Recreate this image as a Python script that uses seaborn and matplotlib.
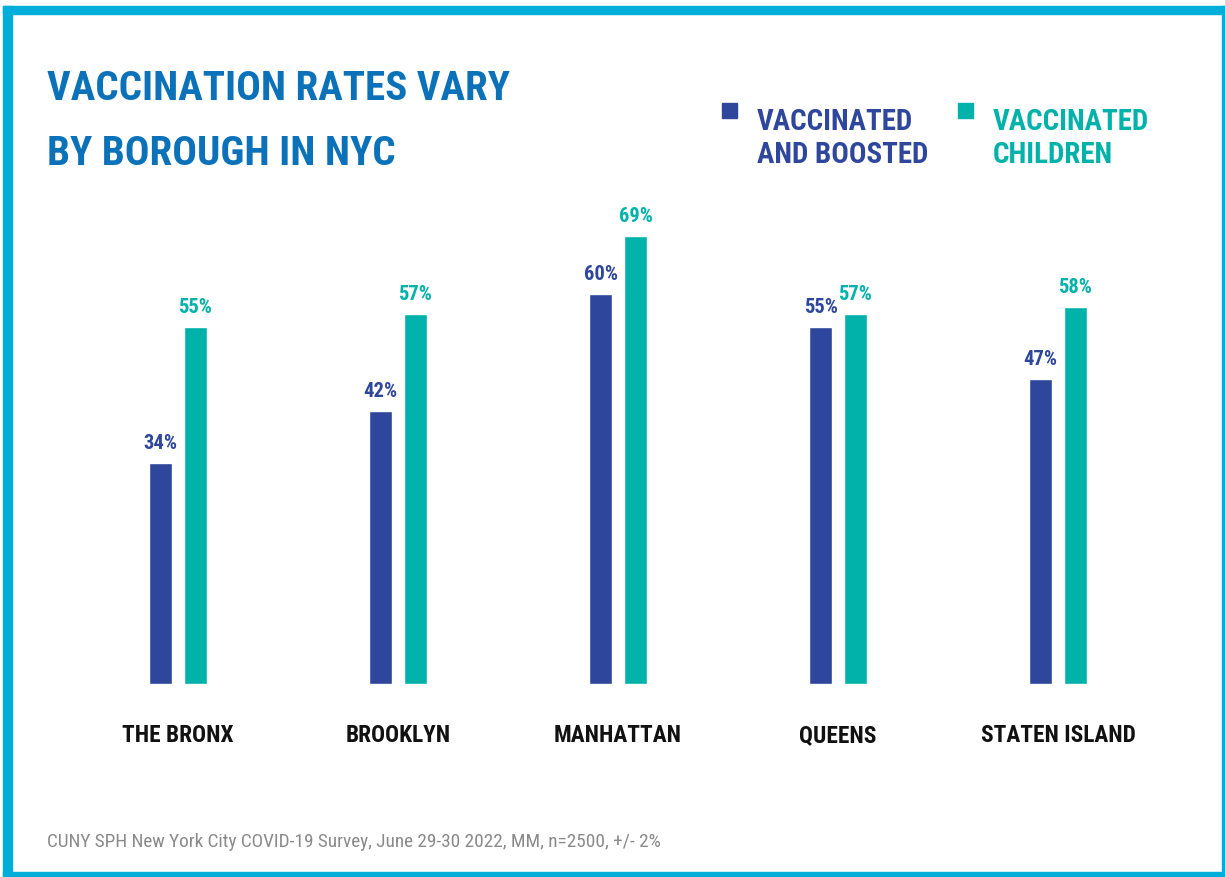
import pandas as pd
import matplotlib.pyplot as plt
import seaborn as sns
from matplotlib.patches import Rectangle
from matplotlib import font_manager
from matplotlib.font_manager import FontProperties
from matplotlib.textpath import TextPath

boroughs = ['THE BRONX', 'BROOKLYN', 'MANHATTAN', 'QUEENS', 'STATEN ISLAND']
boosted = [34, 42, 60, 55, 47]
children = [55, 57, 69, 57, 58]
series = ['VACCINATED AND BOOSTED', 'VACCINATED CHILDREN']
footer = 'CUNY SPH New York City COVID-19 Survey, June 29-30 2022, MM, n=2500, +/- 2%'

BLUE = '#2E479C'
TEAL = '#00B2A9'
TITLE_BLUE = '#0B72B9'
BORDER = '#00AEDA'

W, H = 1225, 877


def fx(x):
    return x / W


def fy(y):
    return 1 - y / H


def pick_narrow_font():
    names = {f.name for f in font_manager.fontManager.ttflist}
    for cand in ['Liberation Sans Narrow', 'Roboto Condensed', 'Open Sans Condensed',
                 'Noto Sans Condensed', 'DejaVu Sans Condensed']:
        if cand in names:
            return cand
    return 'DejaVu Sans'


FONT = pick_narrow_font()


def fit_size(text, target_px, max_pt, weight='bold'):
    # подбор кегля под ширину текста в референсе
    prop = FontProperties(family=FONT, weight=weight, stretch='condensed')
    w = TextPath((0, 0), text, size=10, prop=prop).get_extents().width * 100 / 72
    return min(max_pt, 10 * target_px / w)


def plot_vaccination():
    sns.set_style('white')
    plt.rcParams['font.family'] = [FONT, 'DejaVu Sans']
    plt.rcParams['font.stretch'] = 'condensed'

    df = pd.DataFrame({
        'borough': boroughs * 2,
        'rate': boosted + children,
        'series': [series[0]] * len(boroughs) + [series[1]] * len(boroughs),
    })

    fig = plt.figure(figsize=(W / 100, H / 100), dpi=100)
    ax = fig.add_axes([fx(68), fy(684), 1100 / W, 520 / H])

    sns.barplot(
        data=df, x='borough', y='rate', hue='series',
        palette=[BLUE, TEAL], width=0.318, gap=0.34,
        saturation=1, legend=False, ax=ax
    )

    ax.set_xlim(-0.5, 4.5)
    ax.set_ylim(0, 80)
    ax.set_xlabel('')
    ax.set_ylabel('')
    ax.set_yticks([])
    sns.despine(ax=ax, left=True, bottom=True)

    cat_size = fit_size('THE BRONX', 110, 21)
    ax.tick_params(axis='x', length=0, pad=29)
    for lbl in ax.get_xticklabels():
        lbl.set_fontweight('bold')
        lbl.set_fontsize(cat_size)
        lbl.set_color('#111111')

    # подписи значений
    val_size = fit_size('60%', 32, 15)
    for cont, col in zip(ax.containers, [BLUE, TEAL]):
        ax.bar_label(cont, fmt='%d%%', padding=7, color=col,
                     fontsize=val_size, fontweight='bold')

    # заголовок
    title_size = fit_size('VACCINATION RATES VARY', 462, 34)
    fig.text(fx(47), fy(100), 'VACCINATION RATES VARY', color=TITLE_BLUE,
             fontsize=title_size, fontweight='bold', va='baseline')
    fig.text(fx(47), fy(165), 'BY BOROUGH IN NYC', color=TITLE_BLUE,
             fontsize=title_size, fontweight='bold', va='baseline')

    # легенда
    leg_size = fit_size('AND BOOSTED', 170, 24)
    for x0, xt, col, lines in [(722, 757, BLUE, ['VACCINATED', 'AND BOOSTED']),
                               (958, 993, TEAL, ['VACCINATED', 'CHILDREN'])]:
        fig.patches.append(Rectangle((fx(x0), fy(118)), 15 / W, 15 / H,
                                     transform=fig.transFigure, color=col))
        fig.text(fx(xt), fy(130), lines[0], color=col, fontsize=leg_size,
                 fontweight='bold', va='baseline')
        fig.text(fx(xt), fy(163), lines[1], color=col, fontsize=leg_size,
                 fontweight='bold', va='baseline')

    fig.text(fx(47), fy(847), footer, color='#8A8A8A',
             fontsize=fit_size(footer, 613, 14.5, weight='normal'), va='baseline')

    # рамка
    for (x0, y0, x1, y1) in [(3, 6, 1225, 14), (3, 6, 12, 877),
                             (1222, 6, 1225, 877), (3, 872, 1225, 877)]:
        fig.patches.append(Rectangle((fx(x0), fy(y1)), (x1 - x0) / W, (y1 - y0) / H,
                                     transform=fig.transFigure, color=BORDER))

    fig.savefig('out.png', dpi=100, facecolor='white')
    plt.close(fig)


if __name__ == '__main__':
    plot_vaccination()
